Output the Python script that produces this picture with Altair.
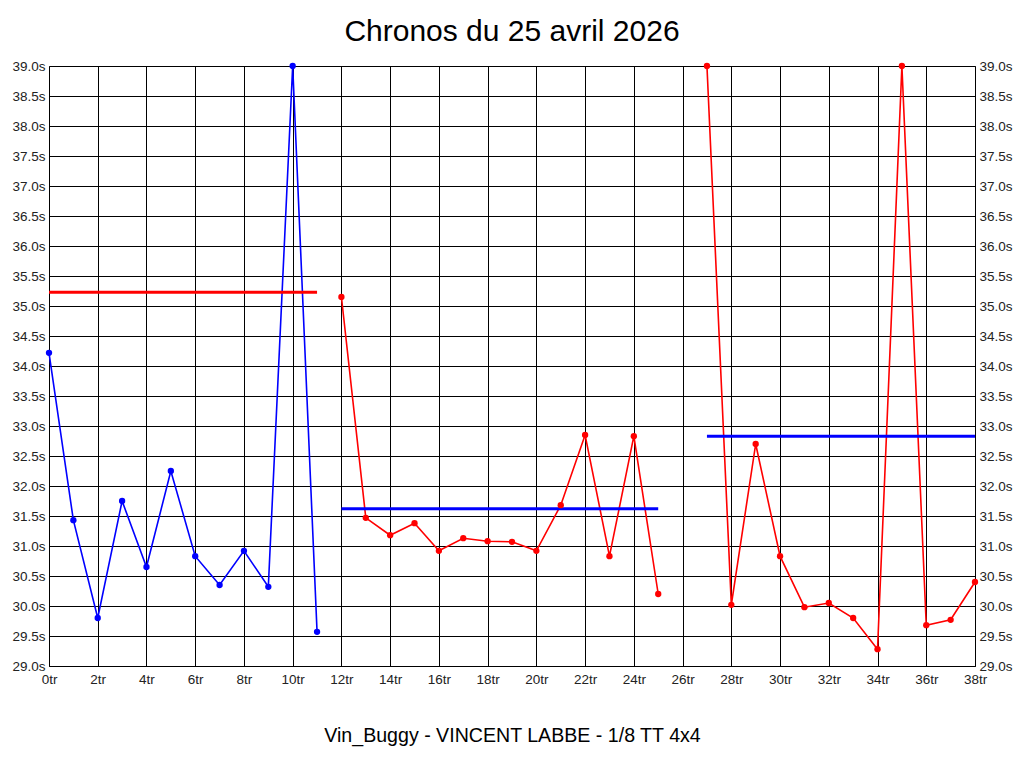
import altair as alt
import pandas as pd

# Lap data
laps_a = list(range(0, 12))
times_a = [34.22, 31.43, 29.80, 31.75, 30.65, 32.25, 30.83, 30.35, 30.92, 30.32, 39.0, 29.57]
laps_b = list(range(12, 26))
times_b = [35.15, 31.47, 31.18, 31.38, 30.92, 31.13, 31.08, 31.07, 30.92, 31.68, 32.85, 30.83, 32.83, 30.20]
laps_c = list(range(27, 39))
times_c = [39.0, 30.02, 32.70, 30.83, 29.98, 30.05, 29.80, 29.28, 39.0, 29.68, 29.77, 30.40]

seg_colors = ["#0000ff", "#ff0000", "#ff0000"]

# Average lines
avg_start = [0, 12, 27]
avg_end = [11, 25, 38]
avg_value = [35.23, 31.62, 32.83]
avg_colors = ["#ff0000", "#0000ff", "#0000ff"]

x_ticks = list(range(0, 39, 2))
y_ticks = [29 + 0.5 * i for i in range(21)]

rows = []
for s, (lx, ty) in enumerate([(laps_a, times_a), (laps_b, times_b), (laps_c, times_c)]):
    for l, t in zip(lx, ty):
        rows.append({"lap": l, "time": t, "seg": s, "col": seg_colors[s]})
df = pd.DataFrame(rows)

avg_df = pd.DataFrame({"x1": avg_start, "x2": avg_end, "y": avg_value, "col": avg_colors})

xs = alt.Scale(domain=[0, 38], nice=False, zero=False)
ys = alt.Scale(domain=[29, 39], nice=False, zero=False)

font = "Liberation Sans"

x_enc = alt.X("lap:Q", scale=xs, axis=alt.Axis(
    values=x_ticks, labelExpr="datum.value + 'tr'", grid=True, gridColor="black",
    gridOpacity=1, gridWidth=1, ticks=False, domainColor="black", labelFont=font,
    labelFontSize=13.5, labelColor="#222", labelPadding=6, labelFlush=False,
    title="Vin_Buggy - VINCENT LABBE - 1/8 TT 4x4", titleFont=font,
    titleFontSize=19.6, titleFontWeight="normal", titlePadding=41, titleColor="black"))
y_enc = alt.Y("time:Q", scale=ys, axis=alt.Axis(
    values=y_ticks, labelExpr="format(datum.value, '.1f') + 's'", grid=True,
    gridColor="black", gridOpacity=1, gridWidth=1, ticks=False, domainColor="black",
    labelFont=font, labelFontSize=13.5, labelColor="#222", labelPadding=4,
    labelFlush=False, title=None))
y_right = alt.Y("time:Q", scale=ys, axis=alt.Axis(
    values=y_ticks, labelExpr="format(datum.value, '.1f') + 's'", grid=False,
    ticks=False, domainColor="black", orient="right", labelFlush=False,
    labelFont=font, labelFontSize=13.5, labelColor="#222", labelPadding=4, title=None))

lines = alt.Chart(df).mark_line(strokeWidth=1.6).encode(
    x=x_enc, y=y_enc, detail="seg:N", color=alt.Color("col:N", scale=None))
points = alt.Chart(df).mark_point(filled=True, size=40, opacity=1).encode(
    x="lap:Q", y=y_right, color=alt.Color("col:N", scale=None))
avgs = alt.Chart(avg_df).mark_rule(strokeWidth=3).encode(
    x="x1:Q", x2="x2:Q", y=alt.Y("y:Q", scale=ys, axis=None),
    color=alt.Color("col:N", scale=None))

chart = alt.layer(lines, avgs, points).resolve_scale(y="independent").properties(
    width=926, height=600,
    autosize=alt.AutoSizeParams(type="none"),
    padding={"left": 41, "top": 58, "right": 41, "bottom": 94},
    title=alt.Title("Chronos du 25 avril 2026", font=font, fontSize=30,
                    fontWeight="normal", color="black", anchor="middle",
                    frame="group", offset=12),
).configure_view(stroke="black", strokeWidth=1).configure(background="white")

chart.save("out.html", embed_options={"renderer": "svg", "actions": False})
